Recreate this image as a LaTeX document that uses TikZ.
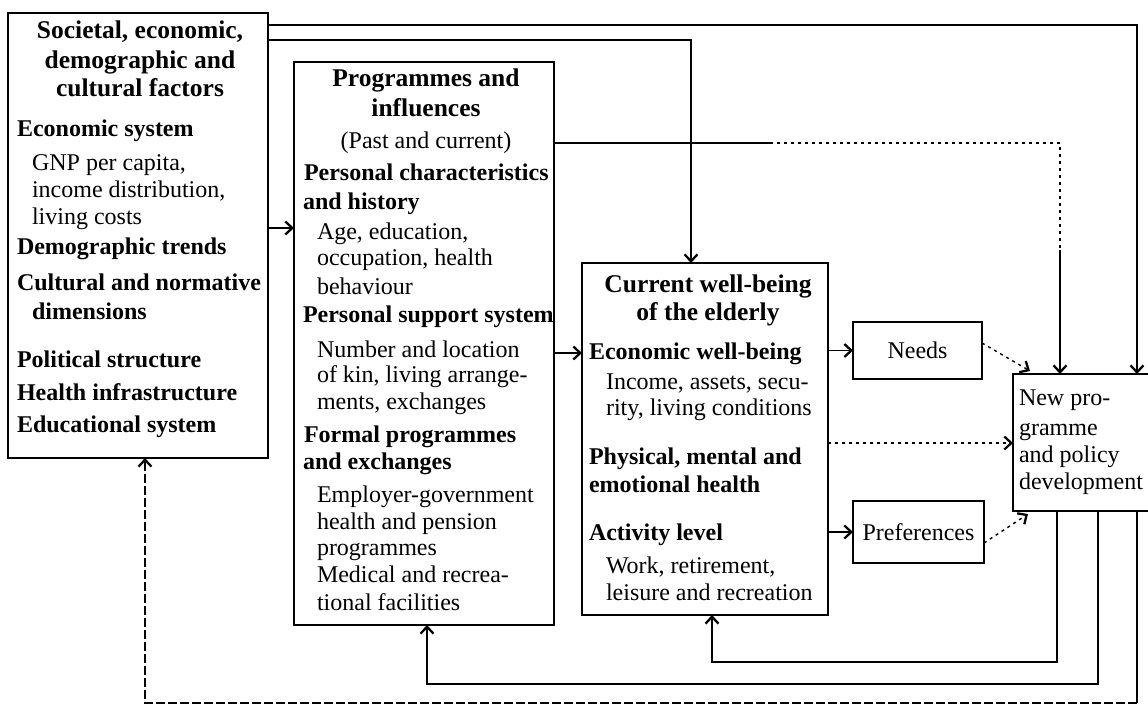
\documentclass[tikz,border=0pt]{standalone}
\usepackage{fontspec}
\setmainfont{Liberation Serif}
\usetikzlibrary{arrows.meta}
\newcommand\TxtLine[5]{\node[txt,anchor=#4] (#1) at (#2,#3) {#5};}
\begin{document}
\begin{tikzpicture}[x=1pt,y=-1pt,
  box/.style={draw,line width=1.6pt,inner sep=0pt,outer sep=0pt,anchor=north west,font=\fontsize{24}{28}\selectfont},
  txt/.style={inner sep=0pt,outer sep=0pt,font=\fontsize{24}{28}\selectfont},
  ln/.style={line width=1.5pt},
  arr/.style={ln,-{Straight Barb[length=7pt,width=13pt,line width=2.3pt]}},
  dotln/.style={line width=1.4pt,dash pattern=on 3pt off 4pt},
  brk/.style={line width=1.5pt,dash pattern=on 9pt off 3pt}
]
\clip (0,0) rectangle (1148,706);
\fill[white] (0,0) rectangle (1148,706);

% ---------- boxes ----------
\node[box,minimum width=260pt,minimum height=445pt] (soc) at (8,13) {};
\node[box,minimum width=260pt,minimum height=563pt] (prog) at (294,62) {};
\node[box,minimum width=246pt,minimum height=352pt] (cur) at (582,263) {};
\node[box,minimum width=129pt,minimum height=57pt] (needs) at (853,322) {Needs};
\node[box,minimum width=131pt,minimum height=62pt] (pref) at (853,501) {Preferences};
\node[box,minimum width=220pt,minimum height=137pt] (newp) at (1013,374) {};

% ---------- box 1 text ----------
\TxtLine{s1}{140}{39}{base}{\fontsize{25.5}{30}\selectfont\bfseries Societal, economic,}
\TxtLine{s2}{140}{69}{base}{\fontsize{25.5}{30}\selectfont\bfseries demographic and}
\TxtLine{s3}{140}{97}{base}{\fontsize{25.5}{30}\selectfont\bfseries cultural factors}
\TxtLine{s4}{17}{137}{base west}{\bfseries Economic system}
\TxtLine{s5}{32}{170}{base west}{GNP per capita,}
\TxtLine{s6}{32}{197}{base west}{income distribution,}
\TxtLine{s7}{32}{224}{base west}{living costs}
\TxtLine{s8}{17}{254}{base west}{\bfseries Demographic trends}
\TxtLine{s9}{17}{290}{base west}{\bfseries Cultural and normative}
\TxtLine{s10}{32}{319}{base west}{\bfseries dimensions}
\TxtLine{s11}{17}{367}{base west}{\bfseries Political structure}
\TxtLine{s12}{17}{400}{base west}{\bfseries Health infrastructure}
\TxtLine{s13}{17}{432}{base west}{\bfseries Educational system}

% ---------- box 2 text ----------
\TxtLine{p1}{426}{87}{base}{\fontsize{25.5}{30}\selectfont\bfseries Programmes and}
\TxtLine{p2}{426}{117}{base}{\fontsize{25.5}{30}\selectfont\bfseries influences}
\TxtLine{p3}{426}{149}{base}{(Past and current)}
\TxtLine{p4}{304}{180}{base west}{\bfseries Personal characteristics}
\TxtLine{p5}{303}{209}{base west}{\bfseries and history}
\TxtLine{p6}{317}{239}{base west}{Age, education,}
\TxtLine{p7}{317}{265}{base west}{occupation, health}
\TxtLine{p8}{317}{294}{base west}{behaviour}
\TxtLine{p9}{303}{322}{base west}{\bfseries Personal support system}
\TxtLine{p10}{317}{357}{base west}{Number and location}
\TxtLine{p11}{317}{382}{base west}{of kin, living arrange-}
\TxtLine{p12}{317}{409}{base west}{ments, exchanges}
\TxtLine{p13}{304}{442}{base west}{\bfseries Formal programmes}
\TxtLine{p14}{303}{469}{base west}{\bfseries and exchanges}
\TxtLine{p15}{317}{502}{base west}{Employer-government}
\TxtLine{p16}{317}{529}{base west}{health and pension}
\TxtLine{p17}{317}{555}{base west}{programmes}
\TxtLine{p18}{317}{582}{base west}{Medical and recrea-}
\TxtLine{p19}{317}{610}{base west}{tional facilities}

% ---------- box 3 text ----------
\TxtLine{c1}{708}{292}{base}{\fontsize{25.5}{30}\selectfont\bfseries Current well-being}
\TxtLine{c2}{708}{320}{base}{\fontsize{25.5}{30}\selectfont\bfseries of the elderly}
\TxtLine{c3}{589}{359}{base west}{\bfseries Economic well-being}
\TxtLine{c4}{606}{389}{base west}{Income, assets, secu-}
\TxtLine{c5}{606}{415}{base west}{rity, living conditions}
\TxtLine{c6}{589}{464}{base west}{\bfseries Physical, mental and}
\TxtLine{c7}{589}{492}{base west}{\bfseries emotional health}
\TxtLine{c8}{589}{540}{base west}{\bfseries Activity level}
\TxtLine{c9}{606}{573}{base west}{Work, retirement,}
\TxtLine{c10}{606}{600}{base west}{leisure and recreation}

% ---------- new programme text ----------
\TxtLine{n1}{1019}{405}{base west}{New pro-}
\TxtLine{n2}{1019}{435}{base west}{gramme}
\TxtLine{n3}{1019}{462}{base west}{and policy}
\TxtLine{n4}{1019}{489}{base west}{development}

% ---------- helper coordinates ----------
\coordinate (t1) at (1137,25);
\coordinate (t2) at (691,40);
\coordinate (t3a) at (770,143);
\coordinate (t3b) at (1060,143);
\coordinate (t3c) at (1060,250);
\coordinate (a1) at (0,228);
\coordinate (a2) at (0,353);
\coordinate (d1) at (0,443);
\coordinate (nd1) at (982,343);
\coordinate (nd2) at (1030,371);
\coordinate (pf1) at (984,543);
\coordinate (pf2) at (1028,514);
\coordinate (f1) at (1057,662);
\coordinate (g1) at (712,662);
\coordinate (f2) at (1098,684);
\coordinate (g2) at (427,684);
\coordinate (f3) at (1137,703);
\coordinate (g3) at (145,703);

% ---------- connectors ----------
\draw[arr] (soc.east |- t1) -| (newp.north -| t1);
\draw[arr] (soc.east |- t2) -| (cur.north -| t2);
\draw[ln] (prog.east |- t3a) -- (t3a);
\draw[dotln] (t3a) -- (t3b) -- (t3c);
\draw[arr] (t3c) -- (newp.north -| t3c);
\draw[arr] (soc.east |- a1) -- (prog.west |- a1);
\draw[arr] (prog.east |- a2) -- (cur.west |- a2);
\draw[arr] (cur.east |- needs.west) -- (needs.west);
\draw[arr] (cur.east |- pref.west) -- (pref.west);
\draw[arr,dotln] (nd1) -- (nd2);
\draw[arr,dotln] (pf1) -- (pf2);
\draw[arr,dotln] (cur.east |- d1) -- (newp.west |- d1);
\draw[arr] (newp.south -| f1) -- (f1) -- (g1) -- (cur.south -| g1);
\draw[arr] (newp.south -| f2) -- (f2) -- (g2) -- (prog.south -| g2);
\draw[ln] (newp.south -| f3) -- (f3);
\draw[arr,brk] (f3) -- (g3) -- (soc.south -| g3);
\end{tikzpicture}
\end{document}
